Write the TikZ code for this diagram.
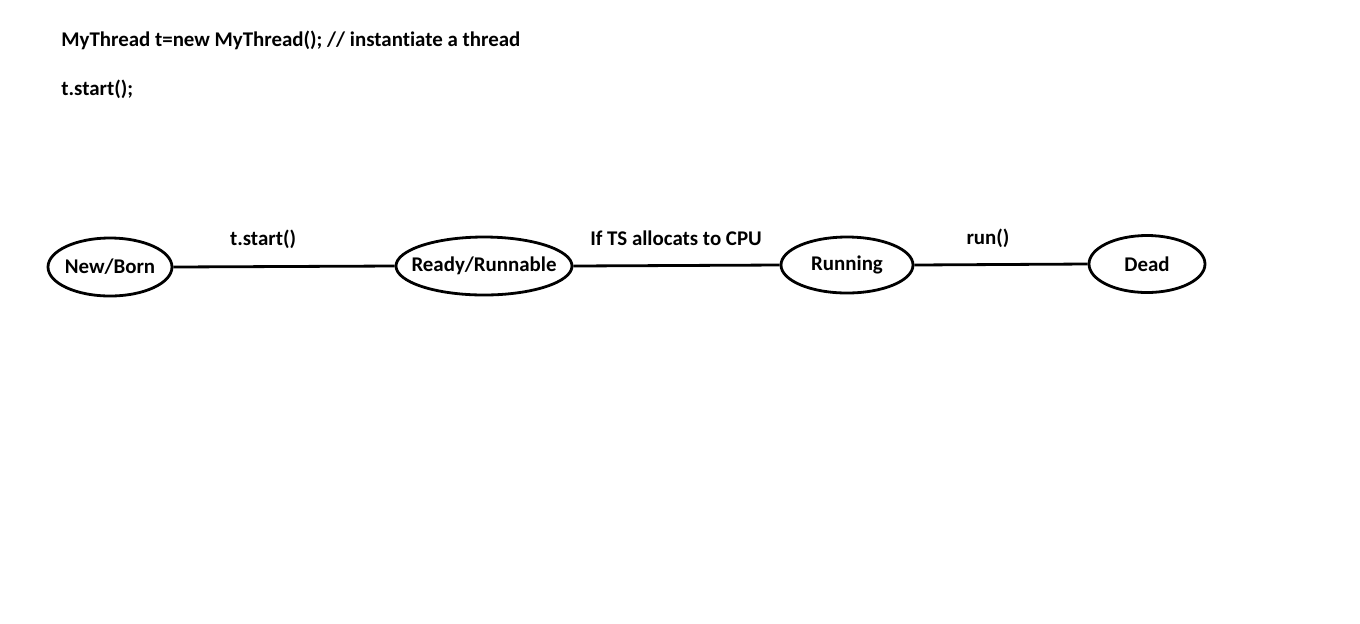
\documentclass[tikz,border=0pt]{standalone}
\usepackage{fontspec}
\setmainfont{Carlito}[Ligatures=NoCommon]
\usetikzlibrary{shapes.geometric}
\newcommand{\diagfont}{\fontsize{10.45pt}{12.5pt}\selectfont\bfseries}
\tikzset{
  state/.style={draw, ellipse, line width=1.4pt, inner xsep=-20pt, inner ysep=0pt, font=\diagfont},
  edge/.style={line width=1.4pt},
  lbl/.style={font=\diagfont, anchor=base, inner sep=0pt},
  code/.style={font=\diagfont, anchor=base west, inner sep=0pt}
}

\begin{document}
\begin{tikzpicture}[x=0.5pt, y=-0.5pt]
  \useasboundingbox (0,0) rectangle (1360,623);
  % code lines
  \node[code] (decl) at (61,46) {MyThread t=new MyThread(); // instantiate a thread};
  \node[code] (call) at (61,95) {t.start();};
  % states
  \node[state, minimum width=62pt, minimum height=29pt] (born) at (110,267) {New/Born};
  \node[state, minimum width=88pt, minimum height=29pt] (ready) at (484,266) {Ready/Runnable};
  \node[state, minimum width=66pt, minimum height=28pt] (running) at (847,265) {Running};
  \node[state, minimum width=58pt, minimum height=28.5pt] (dead) at (1147,264) {Dead};
  % transitions
  \draw[edge] (born.east) -- (ready.west);
  \draw[edge] (ready.east) -- (running.west);
  \draw[edge] (running.east) -- (dead.west);
  \node[lbl] (lstart) at (263,245) {t.start()};
  \node[lbl] (lcpu) at (676,245) {If TS allocats to CPU};
  \node[lbl] (lrun) at (988,244) {run()};
\end{tikzpicture}
\end{document}
